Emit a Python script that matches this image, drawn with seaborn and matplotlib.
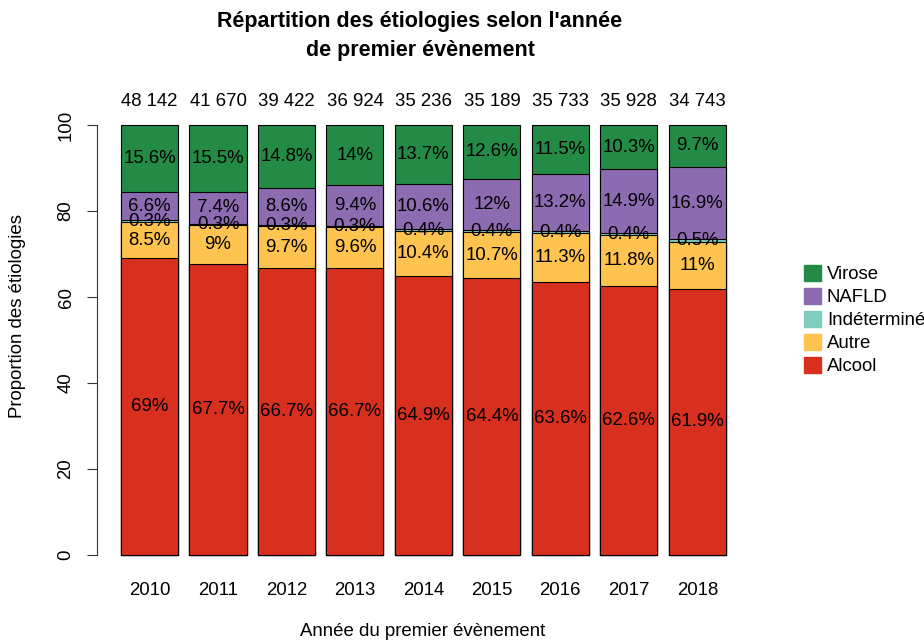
import numpy as np
import pandas as pd
import matplotlib
matplotlib.use("Agg")
import matplotlib.pyplot as plt
import seaborn as sns
from matplotlib.patches import Patch

years = ["2010", "2011", "2012", "2013", "2014", "2015", "2016", "2017", "2018"]
totals = ["48 142", "41 670", "39 422", "36 924", "35 236", "35 189", "35 733", "35 928", "34 743"]
categories = ["Alcool", "Autre", "Indéterminé", "NAFLD", "Virose"]
alcool = [69, 67.7, 66.7, 66.7, 64.9, 64.4, 63.6, 62.6, 61.9]
autre = [8.5, 9, 9.7, 9.6, 10.4, 10.7, 11.3, 11.8, 11]
indetermine = [0.3, 0.3, 0.3, 0.3, 0.4, 0.4, 0.4, 0.4, 0.5]
nafld = [6.6, 7.4, 8.6, 9.4, 10.6, 12, 13.2, 14.9, 16.9]
virose = [15.6, 15.5, 14.8, 14, 13.7, 12.6, 11.5, 10.3, 9.7]
colors = ["#D7301F", "#FEC44F", "#7FCDBB", "#8C6BB1", "#238B45"]

sns.set_style("white")
plt.rcParams["font.family"] = ["Liberation Sans", "DejaVu Sans"]
plt.rcParams["text.color"] = "black"
plt.rcParams["axes.labelcolor"] = "black"
plt.rcParams["xtick.color"] = "black"
plt.rcParams["ytick.color"] = "black"

series = [alcool, autre, indetermine, nafld, virose]
vals = np.array(series, dtype=float)
cum = np.cumsum(vals, axis=0)

fig = plt.figure(figsize=(9.24, 6.42), dpi=100)
ax = fig.add_axes([0.1048, 0.1087, 0.8117 - 0.1048, 0.8321 - 0.1087])

# draw cumulative layers from top to bottom
for k in range(len(categories) - 1, -1, -1):
    df = pd.DataFrame({"year": years, "v": cum[k]})
    sns.barplot(data=df, x="year", y="v", color=colors[k], width=1/1.2,
                edgecolor="black", linewidth=0.8, saturation=1, ax=ax, zorder=2)

FS = 13.4
# segment labels
for i in range(len(years)):
    for k in range(len(categories)):
        lo = cum[k - 1][i] if k > 0 else 0
        mid = lo + vals[k][i] / 2
        v = vals[k][i]
        ax.text(i, mid, f"{v:g}%", ha="center", va="center", fontsize=FS, color="black", zorder=5)
    ax.text(i, 105.4, totals[i], ha="center", va="center", fontsize=FS, clip_on=False)

ax.set_xlim(-0.77, 8.77)
ax.set_ylim(-4, 104)
for s in ["top", "right", "bottom"]:
    ax.spines[s].set_visible(False)
ax.spines["left"].set_bounds(0, 100)
ax.spines["left"].set_color("#333333")
ax.set_yticks([0, 20, 40, 60, 80, 100])
ax.set_yticklabels(["0", "20", "40", "60", "80", "100"], rotation=90, va="center", fontsize=FS)
ax.tick_params(axis="y", length=7, width=0.8, color="#333333", pad=9, left=True)
ax.tick_params(axis="x", length=0, pad=7, labelsize=FS)
ax.set_xlabel("")
ax.set_ylabel("")

fig.text(423 / 924, 1 - 632 / 642, "Année du premier évènement", ha="center", va="center", fontsize=FS)
fig.text(18 / 924, 1 - 316 / 642, "Proportion des étiologies", ha="center", va="center",
         rotation=90, fontsize=FS)
fig.text(420 / 924, 1 - 36 / 642, "Répartition des étiologies selon l'année\nde premier évènement",
         ha="center", va="center", fontsize=15.5, fontweight="bold", linespacing=1.5)

handles = [Patch(facecolor=colors[k], edgecolor=colors[k]) for k in range(len(categories) - 1, -1, -1)]
labels = categories[::-1]
fig.legend(handles, labels, loc="center left", bbox_to_anchor=(800 / 924, 1 - 320 / 642),
           frameon=False, fontsize=FS, handlelength=0.95, handleheight=0.95,
           handletextpad=0.3, labelspacing=0.25, borderaxespad=0, borderpad=0.2)

fig.savefig("out.png", dpi=100)
